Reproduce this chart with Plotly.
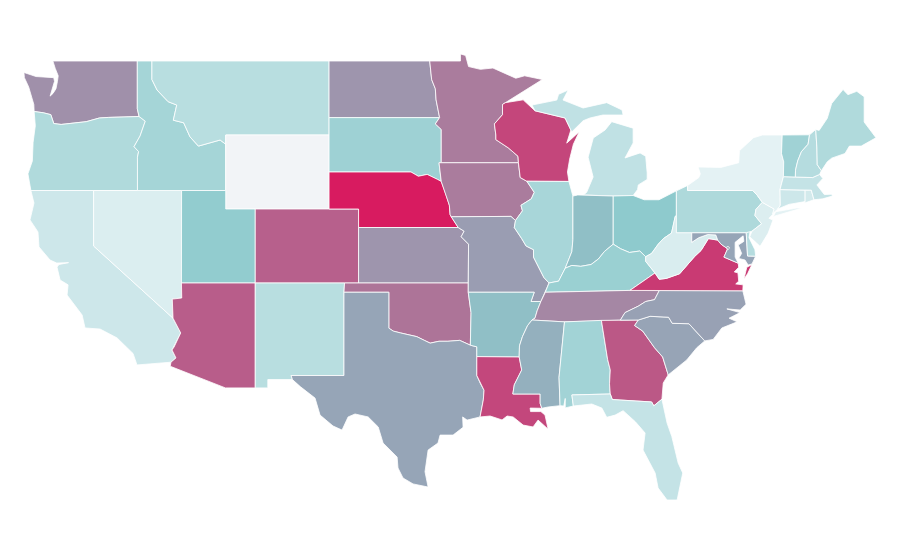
import plotly.graph_objects as go
from plotly.colors import sample_colorscale

states = ["WA", "OR", "CA", "NV", "ID", "MT", "WY", "UT", "AZ", "CO", "NM", "ND", "SD", "NE", "KS", "OK", "TX",
          "MN", "IA", "MO", "AR", "LA", "WI", "IL", "MI", "IN", "OH", "KY", "TN", "MS", "AL", "GA", "FL", "SC",
          "NC", "VA", "WV", "MD", "DE", "DC", "PA", "NJ", "NY", "CT", "RI", "MA", "VT", "NH", "ME"]
values = [57.6, 26.2, 14.4, 8.7, 30.6, 22.9, 0, 38.4, 76, 75, 22.9, 55.8, 33.5, 100, 55.8, 67.8, 50,
          65, 65, 53, 43, 84, 84.5, 29.4, 19.7, 43, 40, 35.1, 61, 47, 31.9, 78, 18, 50.5,
          51.5, 88.8, 9.5, 50, 24.1, 50, 27, 8.3, 5, 14.4, 11.9, 18, 32.7, 24.1, 26.2]

colorscale = [[0, "#f2f4f7"], [0.05, "#e4f2f4"], [0.4, "#8ecacd"], [0.5, "#96a5b7"], [1, "#d81b60"]]

# shared borders, lon/lat, so neighbouring states line up
COLUMBIA = [(-124.03, 46.27), (-123.4, 46.2), (-122.9, 46.1), (-122.7, 45.62), (-122.2, 45.57), (-121.2, 45.65),
            (-120.5, 45.72), (-119.6, 45.92), (-119.0, 45.95), (-116.92, 46.0)]
SNAKE = [(-116.92, 46.0), (-116.5, 45.75), (-116.85, 44.95), (-117.26, 44.37), (-116.95, 44.1), (-117.03, 43.8),
         (-117.03, 42.0)]
BITTERROOT = [(-116.05, 48.0), (-115.7, 47.43), (-114.95, 46.8), (-114.37, 46.62), (-114.6, 45.8), (-113.9, 45.66),
              (-113.47, 44.9), (-112.9, 44.4), (-111.43, 44.73), (-111.05, 44.5)]
COLORADO_NV = [(-114.05, 37.0), (-114.03, 36.19), (-114.67, 36.13), (-114.62, 35.1)]
COLORADO_CA = [(-114.62, 35.1), (-114.1, 34.3), (-114.55, 33.54), (-114.69, 33.38), (-114.42, 32.95), (-114.76, 32.72)]
RED_RIVER = [(-100.0, 34.56), (-99.7, 34.4), (-99.2, 34.3), (-98.1, 34.1), (-97.6, 33.9), (-97.2, 33.75), (-96.6, 33.85),
             (-96.0, 33.85), (-95.2, 33.9), (-94.48, 33.64)]
RIO_GRANDE = [(-97.34, 25.97), (-98.36, 26.14), (-99.04, 26.46), (-99.38, 27.0), (-99.44, 27.59), (-100.39, 28.35),
              (-100.72, 29.22), (-101.4, 29.76), (-102.29, 29.92), (-102.76, 29.76), (-103.17, 29.05), (-103.78, 29.27),
              (-104.66, 29.86), (-105.0, 30.78), (-106.0, 31.4), (-106.53, 31.78), (-106.62, 32.0)]
SABINE = [(-94.04, 32.0), (-93.82, 31.6), (-93.55, 31.2), (-93.6, 30.68), (-93.72, 30.1), (-93.82, 29.76)]
MO_NE_IA = [(-96.45, 42.49), (-96.1, 41.7), (-95.9, 41.2), (-95.85, 40.7), (-95.77, 40.58)]
MO_NE_KS = [(-95.77, 40.58), (-95.3, 40.0)]
MO_KS = [(-95.3, 40.0), (-94.9, 39.8), (-95.1, 39.5), (-94.6, 39.1), (-94.62, 37.0)]
SD_NE = [(-96.45, 42.49), (-96.7, 42.6), (-97.4, 42.87), (-98.0, 42.77), (-98.5, 43.0), (-104.05, 43.0)]
RED_NORTH = [(-96.56, 45.94), (-96.8, 46.9), (-96.85, 47.5), (-97.1, 48.0), (-97.23, 49.0)]
MN_SD = [(-96.45, 43.5), (-96.45, 45.3), (-96.85, 45.6), (-96.56, 45.94)]
MN_WI = [(-92.1, 46.75), (-92.3, 46.65), (-92.3, 46.1), (-92.85, 45.6), (-92.75, 45.0), (-92.75, 44.75), (-91.9, 44.3),
         (-91.25, 43.85), (-91.22, 43.5)]
IA_WI = [(-91.22, 43.5), (-91.1, 42.7), (-90.65, 42.5)]
IA_IL = [(-90.65, 42.5), (-90.15, 41.9), (-90.35, 41.55), (-91.05, 41.2), (-90.95, 40.9), (-91.42, 40.38)]
MO_IL = [(-91.42, 40.38), (-91.5, 40.0), (-91.0, 39.4), (-90.7, 39.0), (-90.2, 38.8), (-90.2, 38.4), (-89.9, 37.9),
         (-89.5, 37.3), (-89.15, 37.0)]
AR_TN = [(-89.7, 36.0), (-89.95, 35.5), (-90.1, 35.1), (-90.3, 35.0)]
AR_MS = [(-90.3, 35.0), (-90.6, 34.7), (-90.95, 34.1), (-91.15, 33.6), (-91.17, 33.0)]
LA_MS = [(-91.17, 33.0), (-91.0, 32.3), (-91.5, 31.5), (-91.6, 31.0), (-89.75, 31.0), (-89.75, 30.5), (-89.64, 30.23)]
OHIO_IL = [(-89.15, 37.0), (-88.5, 37.1), (-88.05, 37.8)]
OHIO_IN = [(-88.05, 37.8), (-87.6, 37.95), (-87.0, 37.9), (-86.3, 38.0), (-85.8, 38.3), (-85.4, 38.7), (-84.8, 39.1)]
OHIO_OH = [(-84.8, 39.1), (-84.3, 38.85), (-83.7, 38.65), (-83.0, 38.73), (-82.6, 38.42)]
OHIO_WV = [(-82.6, 38.42), (-82.2, 38.6), (-81.75, 39.1), (-81.4, 39.4), (-80.85, 39.7), (-80.6, 40.6), (-80.52, 40.64)]
WABASH = [(-87.53, 41.7), (-87.53, 39.35), (-87.6, 38.7), (-88.05, 37.8)]
WV_KY = [(-82.6, 38.42), (-82.6, 38.17), (-81.97, 37.54)]
VA_KY = [(-81.97, 37.54), (-83.67, 36.6)]
WV_VA = [(-81.97, 37.54), (-81.68, 37.2), (-81.2, 37.25), (-80.3, 37.5), (-79.3, 38.42), (-78.85, 38.76), (-78.35, 39.4),
         (-77.72, 39.32)]
POTOMAC_WV = [(-77.72, 39.32), (-77.85, 39.6), (-78.4, 39.62), (-79.0, 39.45), (-79.48, 39.2), (-79.48, 39.72)]
POTOMAC_VA = [(-77.72, 39.32), (-77.5, 39.1), (-77.05, 38.85), (-77.3, 38.4), (-77.0, 38.3), (-76.33, 38.07)]
TN_NC = [(-81.68, 36.59), (-82.0, 36.1), (-82.6, 36.0), (-83.1, 35.75), (-84.0, 35.4), (-84.32, 34.99)]
AL_MS = [(-88.1, 34.9), (-88.47, 31.9), (-88.4, 30.37)]
AL_GA = [(-85.6, 34.98), (-85.18, 32.87), (-85.0, 32.3), (-85.05, 31.55), (-85.0, 31.0)]
GA_SC = [(-83.1, 35.0), (-83.35, 34.7), (-82.8, 34.4), (-82.0, 33.5), (-81.45, 33.0), (-81.1, 32.1), (-81.08, 32.03)]
GA_FL = [(-85.0, 31.0), (-84.86, 30.7), (-82.2, 30.57), (-82.05, 30.36), (-81.5, 30.72)]
NC_SC = [(-83.1, 35.0), (-82.3, 35.2), (-81.05, 35.15), (-80.8, 34.82), (-79.67, 34.8), (-78.6, 33.87)]
PA_NY = [(-79.76, 42.27), (-79.76, 42.0), (-75.35, 42.0), (-75.05, 41.75), (-74.7, 41.36)]
PA_NJ = [(-74.7, 41.36), (-75.13, 40.98), (-75.2, 40.65), (-74.75, 40.2), (-75.4, 39.8)]
NY_NE = [(-73.35, 45.0), (-73.4, 44.0), (-73.25, 43.55), (-73.27, 42.75), (-73.5, 42.05), (-73.48, 41.2), (-73.65, 41.0)]
VT_NH = [(-71.5, 45.01), (-71.6, 44.5), (-72.05, 44.1), (-72.3, 43.6), (-72.45, 43.1), (-72.46, 42.73)]
NH_ME = [(-71.08, 45.3), (-71.0, 44.3), (-70.98, 43.4), (-70.7, 43.07)]


def rev(seg):
    return seg[::-1]


def ring(*segs):
    pts = []
    for s in segs:
        pts.extend(s)
    return pts


outlines = {
    "WA": [ring([(-122.76, 49.0), (-117.04, 49.0), (-117.04, 46.42), (-116.92, 46.0)], rev(COLUMBIA),
                [(-124.05, 46.65), (-124.18, 47.0), (-124.4, 47.6), (-124.69, 48.1), (-124.72, 48.38), (-123.9, 48.16),
                 (-123.1, 48.1), (-122.7, 48.1), (-122.65, 47.9), (-122.85, 47.4), (-122.95, 47.1), (-122.75, 47.25),
                 (-122.55, 47.5), (-122.45, 47.9), (-122.4, 48.2), (-122.6, 48.6)])],
    "OR": [ring(COLUMBIA, SNAKE, [(-120.0, 42.0), (-124.25, 42.0), (-124.45, 42.9), (-124.15, 43.6), (-124.1, 44.6),
                                  (-123.95, 45.5)])],
    "CA": [ring([(-124.25, 42.0), (-120.0, 42.0), (-120.0, 39.0), (-114.62, 35.1)], COLORADO_CA[1:],
                [(-117.06, 32.57), (-117.33, 33.19), (-118.41, 34.03), (-119.56, 34.51), (-120.58, 34.57), (-120.78, 35.27),
                 (-121.8, 36.35), (-121.73, 36.9), (-122.27, 37.16), (-122.48, 37.86), (-122.35, 38.0), (-121.7, 38.1),
                 (-122.5, 38.08), (-122.95, 38.24), (-123.7, 38.95), (-123.77, 39.76), (-124.31, 40.41), (-124.04, 41.32)])],
    "NV": [ring([(-120.0, 42.0), (-114.04, 42.0)], COLORADO_NV, [(-120.0, 39.0)])],
    "ID": [ring([(-117.04, 49.0), (-116.05, 49.0)], BITTERROOT, [(-111.05, 42.0)], rev(SNAKE), [(-117.04, 46.42)])],
    "MT": [ring([(-116.05, 49.0), (-104.05, 49.0), (-104.05, 45.0), (-111.05, 45.0)], rev(BITTERROOT))],
    "WY": [[(-111.05, 45.0), (-104.05, 45.0), (-104.05, 41.0), (-111.05, 41.0)]],
    "UT": [[(-114.04, 42.0), (-111.05, 42.0), (-111.05, 41.0), (-109.05, 41.0), (-109.05, 37.0), (-114.05, 37.0)]],
    "AZ": [ring([(-114.05, 37.0), (-109.05, 37.0), (-109.05, 31.33), (-111.07, 31.33), (-114.81, 32.5)], rev(COLORADO_CA),
                rev(COLORADO_NV))],
    "CO": [[(-109.05, 41.0), (-102.05, 41.0), (-102.05, 37.0), (-109.05, 37.0)]],
    "NM": [ring([(-109.05, 37.0), (-103.0, 37.0), (-103.04, 36.5), (-103.04, 32.0), (-106.62, 32.0), (-106.53, 31.78),
                 (-108.2, 31.78), (-108.2, 31.33), (-109.05, 31.33)])],
    "ND": [ring([(-104.05, 49.0)], rev(RED_NORTH), [(-104.05, 45.94)])],
    "SD": [ring([(-104.05, 45.94)], rev(MN_SD), [(-96.6, 43.5)], SD_NE)],
    "NE": [ring(rev(SD_NE), MO_NE_IA, MO_NE_KS, [(-102.05, 40.0), (-102.05, 41.0), (-104.05, 41.0)])],
    "KS": [ring(MO_KS, [(-102.05, 37.0), (-102.05, 40.0)])],
    "OK": [ring([(-103.0, 37.0), (-94.62, 37.0), (-94.62, 36.5), (-94.43, 35.4)], rev(RED_RIVER),
                [(-100.0, 36.5), (-103.04, 36.5)])],
    "TX": [ring([(-103.04, 36.5), (-100.0, 36.5)], RED_RIVER, [(-94.04, 33.55)], SABINE,
                [(-94.7, 29.59), (-95.0, 29.76), (-94.97, 29.2), (-95.65, 28.78), (-96.53, 28.78), (-96.67, 28.35),
                 (-97.34, 27.97), (-97.48, 27.32), (-97.55, 26.8)], RIO_GRANDE, [(-103.04, 32.0)])],
    "MN": [ring([(-97.23, 49.0), (-95.15, 49.0), (-95.15, 49.38), (-94.8, 49.3), (-94.6, 48.7), (-93.8, 48.55),
                 (-92.95, 48.62), (-92.0, 48.3), (-91.4, 48.07), (-90.8, 48.2), (-89.6, 48.0)], MN_WI,
                [(-96.45, 43.5)], MN_SD, RED_NORTH)],
    "IA": [ring([(-96.6, 43.5), (-91.22, 43.5)], IA_WI, IA_IL, [(-91.73, 40.6)], rev(MO_NE_IA))],
    "MO": [ring(MO_NE_KS, MO_KS, [(-94.62, 36.5), (-90.15, 36.5), (-90.37, 36.0), (-89.7, 36.0), (-89.4, 36.5)],
                rev(MO_IL), [(-91.73, 40.6)])],
    "AR": [ring([(-94.62, 36.5), (-90.15, 36.5), (-90.37, 36.0)], AR_TN, AR_MS, [(-94.04, 33.02), (-94.04, 33.55),
                                                                               (-94.48, 33.64), (-94.43, 35.4)])],
    "LA": [ring([(-94.04, 33.02)], LA_MS, [(-90.43, 30.24), (-90.4, 30.05), (-89.7, 30.05), (-89.42, 29.86), (-89.21, 29.1),
                                           (-89.89, 29.59), (-90.23, 29.22), (-90.9, 29.32), (-91.58, 29.76),
                                           (-91.99, 29.81), (-92.33, 29.6), (-93.14, 29.81)], rev(SABINE))],
    "WI": [ring(rev(IA_WI), rev(MN_WI), [(-90.9, 46.9), (-90.1, 46.31), (-89.1, 46.13), (-88.06, 45.92), (-87.67, 45.27),
                                         (-87.95, 44.56), (-87.1, 45.18), (-87.5, 44.5), (-87.75, 43.7), (-87.9, 43.0),
                                         (-87.8, 42.49)])],
    "IL": [ring([(-90.65, 42.5), (-87.8, 42.49)], WABASH, rev(OHIO_IL), rev(MO_IL), rev(IA_IL))],
    "MI": [[(-86.82, 41.76), (-84.8, 41.7), (-83.45, 41.73), (-83.15, 42.05), (-83.1, 42.3), (-82.5, 42.6), (-82.5, 42.95),
            (-82.6, 43.85), (-82.98, 44.03), (-84.0, 43.76), (-83.45, 44.57), (-83.45, 45.37), (-84.9, 45.72),
            (-85.35, 45.27), (-86.15, 44.84), (-86.5, 43.8), (-86.16, 42.73), (-86.6, 41.9)],
           [(-90.3, 46.62), (-88.62, 46.89), (-88.5, 47.2), (-87.85, 47.43), (-88.2, 46.89), (-86.84, 46.46), (-85.24, 46.75),
            (-84.2, 46.35), (-84.13, 46.08), (-85.5, 46.08), (-86.37, 45.92), (-86.84, 45.77), (-87.6, 45.17),
            (-87.67, 45.27), (-88.06, 45.92), (-89.1, 46.13), (-90.1, 46.31)]],
    "IN": [ring([(-87.53, 41.7), (-87.2, 41.76), (-84.8, 41.7)], rev(OHIO_IN), rev(WABASH))],
    "OH": [ring([(-84.8, 41.7), (-83.45, 41.73), (-82.7, 41.5), (-81.7, 41.5), (-80.52, 41.98)], rev(OHIO_WV), rev(OHIO_OH))],
    "KY": [ring(OHIO_IL, OHIO_IN, OHIO_OH, WV_KY, VA_KY, [(-89.4, 36.5)])],
    "TN": [ring([(-89.7, 36.0), (-89.4, 36.5), (-83.67, 36.6)], TN_NC, [(-88.1, 34.9), (-90.3, 35.0)], rev(AR_TN))],
    "MS": [ring(rev(AR_MS), AL_MS, [(-89.2, 30.3)], rev(LA_MS))],
    "AL": [ring(AL_MS[:1], AL_GA, [(-87.6, 30.95), (-87.5, 30.35), (-88.05, 30.25), (-88.05, 30.76), (-88.15, 30.35)],
                rev(AL_MS))],
    "GA": [ring(AL_GA[:1], [(-84.32, 34.99)], GA_SC, [(-81.41, 31.6), (-81.5, 30.85)], rev(GA_FL), rev(AL_GA))],
    "FL": [ring([(-87.5, 30.35), (-87.6, 30.95)], GA_FL, [(-81.15, 29.43), (-80.83, 28.7), (-80.4, 27.27), (-80.09, 26.73),
                                                         (-80.47, 25.27), (-81.15, 25.27), (-81.76, 25.92), (-81.96, 26.73),
                                                         (-82.45, 27.43), (-82.78, 27.97), (-82.64, 28.89), (-83.3, 29.5),
                                                         (-84.13, 30.1), (-84.67, 29.86), (-85.24, 29.74), (-85.57, 30.24),
                                                         (-86.25, 30.46)])],
    "SC": [ring(NC_SC, [(-79.14, 33.5), (-79.82, 32.84)], rev(GA_SC))],
    "NC": [ring(rev(TN_NC), [(-76.02, 36.58), (-75.8, 35.85), (-76.2, 35.54), (-77.1, 35.6), (-76.2, 35.4), (-76.95, 35.1),
                             (-76.4, 34.9), (-77.44, 34.57), (-78.03, 33.95)], rev(NC_SC))],
    "VA": [ring([(-83.67, 36.6), (-81.68, 36.59), (-76.02, 36.58), (-76.0, 36.9), (-76.5, 36.95), (-76.3, 37.1),
                 (-76.35, 37.55), (-76.6, 37.6), (-76.3, 37.85)], rev(POTOMAC_VA), rev(WV_VA)),
           [(-75.95, 37.2), (-75.75, 37.85), (-75.4, 38.0), (-75.7, 37.5)]],
    "WV": [ring(OHIO_WV, [(-80.52, 39.72), (-79.48, 39.72)], rev(POTOMAC_WV), rev(WV_VA), rev(WV_KY))],
    "MD": [ring([(-79.48, 39.72), (-75.79, 39.72), (-75.7, 38.46), (-75.15, 38.45), (-75.4, 38.03), (-75.66, 37.97),
                 (-75.87, 38.24), (-76.3, 38.33), (-76.1, 38.6), (-76.33, 39.05), (-75.95, 39.25), (-76.0, 39.55),
                 (-76.54, 39.2), (-76.54, 38.4)], rev(POTOMAC_VA), POTOMAC_WV[:-1])],
    "DE": [[(-75.79, 39.72), (-75.52, 39.83), (-75.6, 39.45), (-75.2, 38.8), (-75.15, 38.45), (-75.7, 38.46)]],
    "DC": [[(-77.12, 38.93), (-77.04, 39.0), (-76.91, 38.89), (-77.04, 38.79)]],
    "PA": [ring([(-80.52, 41.98)], PA_NY, PA_NJ, [(-75.79, 39.72), (-80.52, 39.72)])],
    "NJ": [ring(rev(PA_NJ), [(-73.9, 41.0), (-74.0, 40.7), (-74.25, 40.5), (-73.98, 40.4), (-74.3, 39.7), (-74.85, 38.98),
                             (-75.55, 39.5)])],
    "NY": [ring([(-79.76, 42.27), (-79.0, 42.7), (-78.9, 42.9), (-79.05, 43.27), (-77.5, 43.25), (-76.3, 43.5),
                 (-76.25, 44.15), (-75.3, 44.85), (-74.7, 45.0)], NY_NE, [(-74.0, 40.75), (-73.9, 41.0)], rev(PA_NY)),
           [(-73.95, 40.6), (-72.0, 41.05), (-72.4, 41.05), (-73.8, 40.85)]],
    "CT": [[(-73.5, 42.05), (-71.8, 42.02), (-71.8, 41.4), (-72.9, 41.25), (-73.65, 41.0), (-73.48, 41.2)]],
    "RI": [[(-71.8, 42.02), (-71.38, 42.02), (-71.2, 41.5), (-71.4, 41.45), (-71.85, 41.32), (-71.8, 41.4)]],
    "MA": [ring([(-73.5, 42.05), (-73.27, 42.75), (-72.46, 42.73), (-71.3, 42.7), (-70.82, 42.87), (-70.6, 42.65),
                 (-71.0, 42.3), (-70.65, 41.95), (-70.5, 41.78), (-70.0, 41.8), (-70.1, 42.05), (-69.95, 41.7),
                 (-70.6, 41.55), (-71.2, 41.5), (-71.38, 42.02), (-71.8, 42.02)])],
    "VT": [ring([(-73.35, 45.0)], VT_NH, rev(NY_NE[:4]))],
    "NH": [ring(VT_NH[:1], NH_ME, [(-70.82, 42.87), (-71.3, 42.7)], rev(VT_NH))],
    "ME": [ring(NH_ME[:1], [(-70.85, 45.25), (-70.3, 45.9), (-70.0, 46.7), (-69.23, 47.46), (-68.9, 47.18), (-68.3, 47.36),
                            (-67.8, 47.07), (-67.8, 45.7), (-67.45, 45.3), (-67.0, 44.85), (-68.0, 44.4), (-68.8, 44.4),
                            (-69.1, 44.0), (-70.0, 43.75), (-70.3, 43.55)], rev(NH_ME))],
}

colors = sample_colorscale(colorscale, [v / 100 for v in values], colortype="rgb")

fig = go.Figure()
for st, val, col in zip(states, values, colors):
    xs, ys = [], []
    for part in outlines[st]:
        xs += [p[0] for p in part] + [part[0][0], None]
        ys += [p[1] for p in part] + [part[0][1], None]
    fig.add_trace(go.Scatter(
        x=xs, y=ys, mode="lines", fill="toself", fillcolor=col,
        line=dict(color="white", width=0.8), name=st, text=f"{st}: {val}", hoverinfo="text",
        showlegend=False,
    ))

# the page body sits 8px in from the window corner, ranges allow for that
fig.update_layout(
    width=900, height=560,
    margin=dict(l=0, r=0, t=0, b=0),
    paper_bgcolor="white", plot_bgcolor="white",
    xaxis=dict(range=[-125.80, -64.83], visible=False),
    yaxis=dict(range=[21.595, 51.865], visible=False),
)

fig.write_html("out.html")
